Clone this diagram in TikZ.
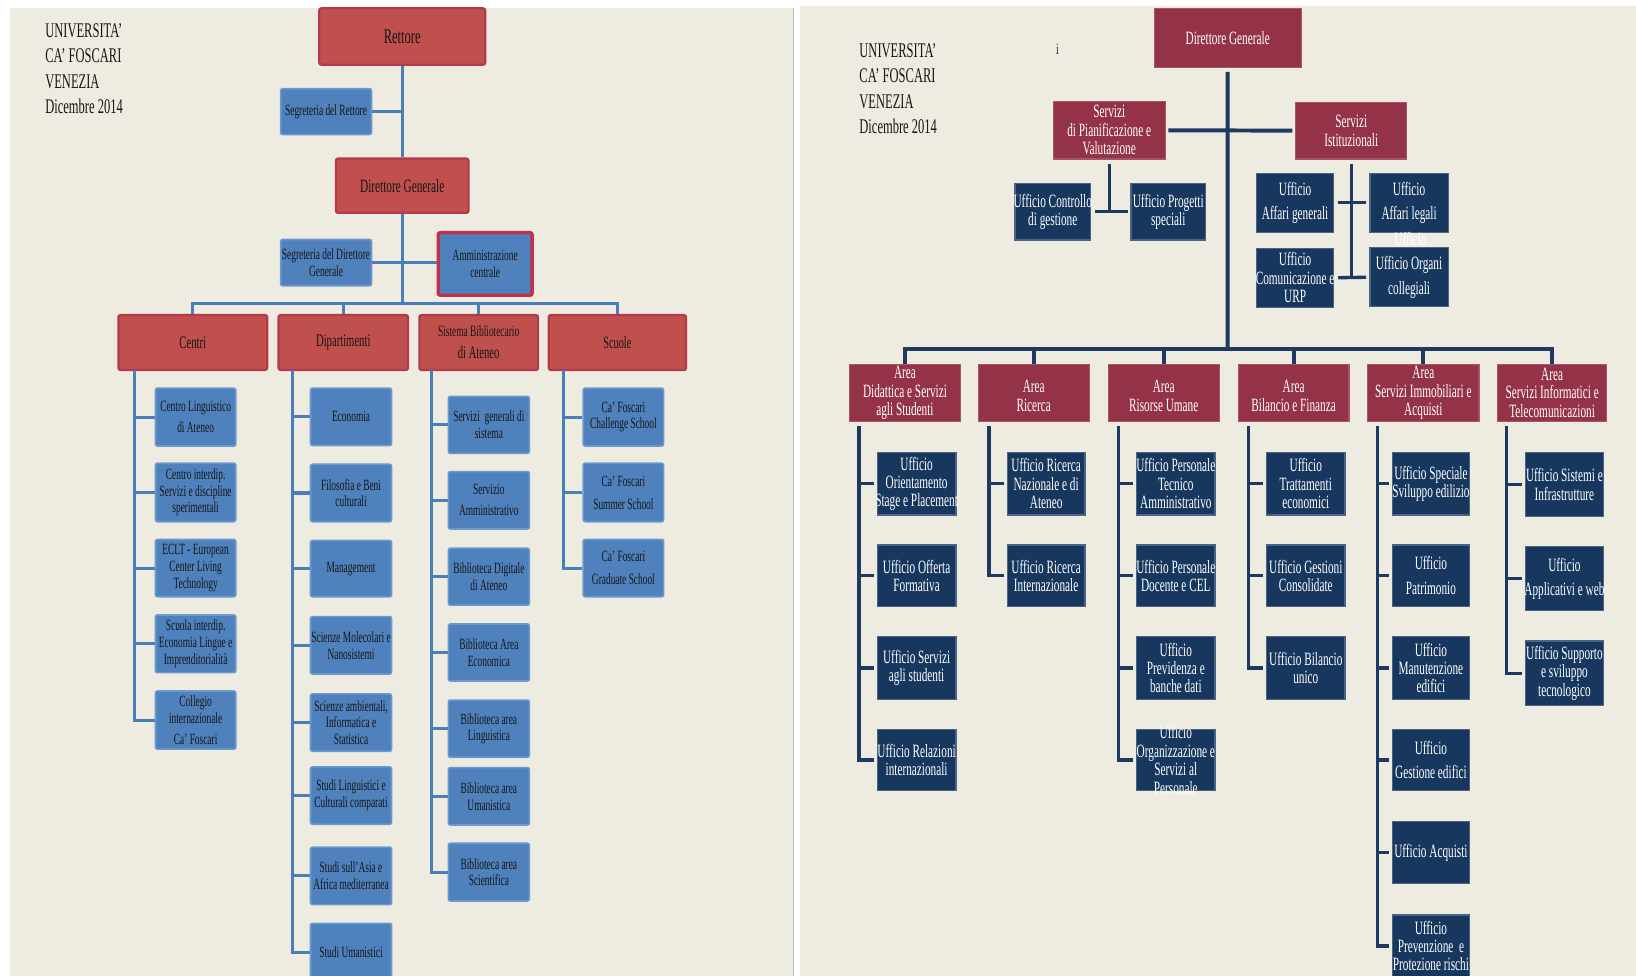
\documentclass[tikz,border=0pt]{standalone}
\usepackage{fontspec}
\setmainfont{Liberation Serif}[FakeStretch=0.6]
\usetikzlibrary{fit}
\definecolor{bg}{HTML}{EEECE1}
\definecolor{lred}{HTML}{C0504D}
\definecolor{lredb}{HTML}{B23A4C}
\definecolor{lblue}{HTML}{4F81BD}
\definecolor{lblueb}{HTML}{6C98CE}
\definecolor{ammb}{HTML}{C2304A}
\definecolor{llinec}{HTML}{4A7EBB}
\definecolor{rred}{HTML}{943348}
\definecolor{rredb}{HTML}{A95568}
\definecolor{rnavy}{HTML}{17375E}
\definecolor{rnavyb}{HTML}{4B6384}
\definecolor{rlinec}{HTML}{1F3A60}
\definecolor{ink}{HTML}{161616}
\newcommand\obox[4]{\node[#1, fit={#3}, inner sep=0pt] (#2) {};
  \node[#1txt] (#2-t) at (#2.center) {#4};}
\begin{document}
\begin{tikzpicture}[x=0.5pt,y=-0.5pt,
  lhead/.style={draw=lredb, fill=lred, line width=1.1pt, rounded corners=1pt},
  lheadtxt/.style={text=ink, align=center, inner sep=0pt, font=\fontsize{8.5}{10.5}\selectfont},
  lbox/.style={draw=lblueb, fill=lblue, line width=0.8pt, rounded corners=1pt},
  lboxtxt/.style={text=ink, align=center, inner sep=0pt, font=\fontsize{7.5}{8}\selectfont},
  ammbox/.style={draw=ammb, fill=lblue, line width=1.6pt, rounded corners=1pt},
  ammboxtxt/.style={text=ink, align=center, inner sep=0pt, font=\fontsize{7.5}{8}\selectfont},
  rhead/.style={draw=rredb, fill=rred, line width=0.5pt},
  rheadtxt/.style={text=white, align=center, inner sep=0pt, font=\fontsize{9}{8.9}\selectfont},
  rbox/.style={draw=rnavyb, fill=rnavy, line width=0.6pt},
  rboxtxt/.style={text=white, align=center, inner sep=0pt, font=\fontsize{9}{8.8}\selectfont},
  title/.style={text=ink, align=left, inner sep=0pt, anchor=north west, font=\fontsize{10}{12.2}\selectfont},
  lline/.style={draw=llinec, line width=1.45pt},
  rline/.style={draw=rlinec, line width=1.9pt},
  aline/.style={draw=rlinec, line width=1.6pt}]
\useasboundingbox (0,0) rectangle (1568,935);
\clip (0,0) rectangle (1568,935);
\fill[white] (0,0) rectangle (1568,935);
\fill[bg] (9.6,8) rectangle (760.3,935);
\fill[bg] (766.4,5.75) rectangle (1568,935);
\draw[black!25, line width=0.5pt] (760.3,8) -- (760.3,935);

% ---------------- LEFT PANEL ----------------
\node[title] (ttl) at (43,22) {UNIVERSITA’\\CA’ FOSCARI\\VENEZIA\\Dicembre 2014};

\obox{lhead}{rett}{(306,8) (465,62)}{\fontsize{10}{12}\selectfont Rettore}
\obox{lbox}{sr}{(269,85) (356,129)}{Segreteria del Rettore}
\obox{lhead}{dgl}{(322,152) (449,204)}{\fontsize{9}{11}\selectfont Direttore Generale}
\obox{lbox}{sdg}{(269,229.5) (356,274)}{Segreteria del Direttore\\Generale}
\obox{ammbox}{amm}{(420,223) (510,283)}{Amministrazione\\centrale}
\obox{lhead}{cen}{(113.5,302) (256,354.6)}{Centri}
\obox{lhead}{dip}{(267,302) (391,354.6)}{Dipartimenti}
\obox{lhead}{sba}{(402,302) (515.6,354.6)}{\fontsize{7.5}{10.5}\selectfont Sistema Bibliotecario\\di Ateneo}
\obox{lhead}{scu}{(526,302) (657.5,354.6)}{\fontsize{8.2}{10}\selectfont Scuole}

% Centri
\obox{lbox}{c1}{(149,372) (226,427.5)}{Centro Linguistico\\[2pt]di Ateneo}
\obox{lbox}{c2}{(149,444) (226,500)}{Centro interdip.\\Servizi e discipline\\sperimentali}
\obox{lbox}{c3}{(149,517) (226,572)}{ECLT - European\\Center Living\\Technology}
\obox{lbox}{c4}{(149,589.4) (226,644.7)}{Scuola interdip.\\Economia Lingue e\\Imprenditorialità}
\obox{lbox}{c5}{(149,662.3) (226,718)}{Collegio\\internazionale\\[2pt]Ca’ Foscari}
% Dipartimenti
\obox{lbox}{d1}{(297.6,372) (375.3,427)}{Economia}
\obox{lbox}{d2}{(297.6,445) (375.3,500)}{Filosofia e Beni\\culturali}
\obox{lbox}{d3}{(297.6,518) (375.3,572)}{Management}
\obox{lbox}{d4}{(297.6,591) (375.3,646)}{Scienze Molecolari e\\Nanosistemi}
\obox{lbox}{d5}{(297.6,665) (375.3,720)}{Scienze ambientali,\\Informatica e\\Statistica}
\obox{lbox}{d6}{(297.6,735) (375.3,790)}{Studi Linguistici e\\Culturali comparati}
\obox{lbox}{d7}{(297.6,812) (375.3,867)}{Studi sull’Asia e\\Africa mediterranea}
\obox{lbox}{d8}{(297.6,885) (375.3,940)}{Studi Umanistici}
% Sistema Bibliotecario
\obox{lbox}{s1}{(429.7,380) (507.4,434.5)}{Servizi\ \ generali di\\sistema}
\obox{lbox}{s2}{(429.7,452) (507.4,507)}{Servizio\\[2pt]Amministrativo}
\obox{lbox}{s3}{(429.7,525.5) (507.4,580)}{Biblioteca Digitale\\di Ateneo}
\obox{lbox}{s4}{(429.7,598) (507.4,652.7)}{Biblioteca Area\\Economica}
\obox{lbox}{s5}{(429.7,671) (507.4,725.8)}{Biblioteca area\\Linguistica}
\obox{lbox}{s6}{(429.7,735.7) (507.4,790.7)}{Biblioteca area\\Umanistica}
\obox{lbox}{s7}{(429.7,808.2) (507.4,863.5)}{Biblioteca area\\Scientifica}
% Scuole
\obox{lbox}{k1}{(559,372) (636,427.5)}{Ca’ Foscari\\Challenge School}
\obox{lbox}{k2}{(559,444) (636,500)}{Ca’ Foscari\\[3pt]Summer School}
\obox{lbox}{k3}{(559,517) (636,572)}{Ca’ Foscari\\[3pt]Graduate School}

% left connectors
\coordinate (lbus) at (385.5,291);
\draw[lline] (rett.south) -- (dgl.north);
\draw[lline] (sr.east) -- (sr.east -| rett.south);
\draw[lline] (dgl.south) -- (lbus);
\draw[lline] (sdg.east) -- (sdg.east -| amm.west);
\draw[lline] (cen.north) -- (cen.north |- lbus) -- (scu.north |- lbus) -- (scu.north);
\draw[lline] (dip.north) -- (dip.north |- lbus);
\draw[lline] (sba.north) -- (sba.north |- lbus);
\coordinate (cenv) at (128.8,354.6);
\coordinate (dipv) at (279.9,354.6);
\coordinate (sbav) at (413.8,354.6);
\coordinate (scuv) at (540.4,354.6);
\draw[lline] (cenv) |- (c5.west);
\foreach \n in {c1,c2,c3,c4} \draw[lline] (\n.west) -- (\n.west -| cenv);
\draw[lline] (dipv) |- (d8.west);
\foreach \n in {d1,d2,d3,d4,d5,d6,d7} \draw[lline] (\n.west) -- (\n.west -| dipv);
\draw[lline] (sbav) |- (s7.west);
\foreach \n in {s1,s2,s3,s4,s5,s6} \draw[lline] (\n.west) -- (\n.west -| sbav);
\draw[lline] (scuv) |- (k3.west);
\foreach \n in {k1,k2} \draw[lline] (\n.west) -- (\n.west -| scuv);

% ---------------- RIGHT PANEL ----------------
\node[title] (ttr) at (823.3,41.4) {UNIVERSITA’\\CA’ FOSCARI\\VENEZIA\\Dicembre 2014};
\node[text=ink, inner sep=0pt, anchor=base, font=\fontsize{7.5}{9}\selectfont] (ichar) at (1013.5,52.7) {i};

\obox{rhead}{dgr}{(1106.3,8) (1247,64.5)}{\fontsize{9}{11}\selectfont Direttore Generale}
\obox{rhead}{pian}{(1009.6,97.4) (1116.6,152.4)}{Servizi\\di Pianificazione e\\Valutazione}
\obox{rhead}{ist}{(1241.8,98) (1348.3,152.4)}{Servizi\\Istituzionali}
\obox{rbox}{ctrl}{(972.8,175.7) (1045.2,230)}{Ufficio Controllo\\di gestione}
\obox{rbox}{prog}{(1084,175.7) (1155.4,230)}{Ufficio Progetti\\speciali}
\obox{rbox}{ag}{(1204.5,166) (1278,222.7)}{Ufficio\\[3pt]Affari generali}
\obox{rbox}{al}{(1313,166) (1388,222.7)}{Ufficio\\[3pt]Affari legali}
\obox{rbox}{com}{(1204.5,238) (1278,294.5)}{Ufficio\\Comunicazione e\\URP}
\obox{rbox}{org}{(1313,237.4) (1388,294)}{Ufficio Organi\\[3pt]collegiali}
\node[rboxtxt, text=white] (stray) at (1352,229.4) {Ufficio};

\obox{rhead}{did}{(814,349) (920.7,404)}{Area\\Didattica e Servizi\\agli Studenti}
\obox{rhead}{ric}{(937.6,349) (1044,404)}{\mbox{}\\Area\\Ricerca}
\obox{rhead}{ris}{(1062.2,349) (1168.6,404)}{\mbox{}\\Area\\Risorse Umane}
\obox{rhead}{bil}{(1186.8,349) (1292.9,404)}{\mbox{}\\Area\\Bilancio e Finanza}
\obox{rhead}{imm}{(1310.8,349) (1417.5,404)}{Area\\Servizi Immobiliari e\\Acquisti}
\obox{rhead}{inf}{(1435.4,349) (1539.8,404)}{Area\\Servizi Informatici e\\Telecomunicazioni}

% Didattica
\obox{rbox}{dd1}{(840.8,433.8) (916.2,493.6)}{Ufficio\\Orientamento\\Stage e Placement}
\obox{rbox}{dd2}{(840.8,522.3) (916.2,581.4)}{Ufficio Offerta\\Formativa}
\obox{rbox}{dd3}{(840.8,610.2) (916.2,670.2)}{Ufficio Servizi\\agli studenti}
\obox{rbox}{dd4}{(840.8,699) (916.2,757.8)}{Ufficio Relazioni\\internazionali}
% Ricerca
\obox{rbox}{rc1}{(965.4,433.8) (1039.9,493.6)}{Ufficio Ricerca\\Nazionale e di\\Ateneo}
\obox{rbox}{rc2}{(965.4,522.3) (1039.9,581.4)}{Ufficio Ricerca\\Internazionale}
% Risorse Umane
\obox{rbox}{ru1}{(1089.4,433.8) (1164.5,493.6)}{Ufficio Personale\\Tecnico\\Amministrativo}
\obox{rbox}{ru2}{(1089.4,522.3) (1164.5,581.4)}{Ufficio Personale\\Docente e CEL}
\obox{rbox}{ru3}{(1089.4,610.2) (1164.5,670.2)}{Ufficio\\Previdenza e\\banche dati}
\obox{rbox}{ru4}{(1089.4,699) (1164.5,757.8)}{Ufficio\\Organizzazione e\\Servizi al\\Personale}
% Bilancio
\obox{rbox}{bf1}{(1214,433.8) (1289,493.6)}{Ufficio\\Trattamenti\\economici}
\obox{rbox}{bf2}{(1214,522.3) (1289,581.4)}{Ufficio Gestioni\\Consolidate}
\obox{rbox}{bf3}{(1214,610.2) (1289,670.2)}{Ufficio Bilancio\\unico}
% Immobiliari
\obox{rbox}{im1}{(1334.4,433.8) (1408.5,493.6)}{Ufficio Speciale\\Sviluppo edilizio}
\obox{rbox}{im2}{(1334.4,522.3) (1408.5,581.4)}{Ufficio\\[3pt]Patrimonio}
\obox{rbox}{im3}{(1334.4,610.2) (1408.5,670.2)}{Ufficio\\Manutenzione\\edifici}
\obox{rbox}{im4}{(1334.4,699) (1408.5,757.8)}{Ufficio\\[3pt]Gestione edifici}
\obox{rbox}{im5}{(1334.4,787.5) (1408.5,846.6)}{Ufficio Acquisti}
\obox{rbox}{im6}{(1334.4,877) (1408.5,936.5)}{Ufficio\\Prevenzione\ \ e\\Protezione rischi}
% Informatici
\obox{rbox}{it1}{(1462.2,433.8) (1536.6,495.2)}{Ufficio Sistemi e\\Infrastrutture}
\obox{rbox}{it2}{(1462.2,524) (1536.6,585.3)}{Ufficio\\[3pt]Applicativi e web}
\obox{rbox}{it3}{(1462.2,614.3) (1536.6,676.3)}{Ufficio Supporto\\e sviluppo\\tecnologico}

% right connectors
\coordinate (rbus) at (1176.6,334.8);
\draw[rline] ([yshift=-2pt]dgr.south) -- (rbus);
\draw[rline, shorten <=1.3pt, shorten >=1.3pt] (pian.east) -- (ist.west);
\draw[aline] ([yshift=-2pt]pian.south) -- (pian.south |- ctrl.east);
\draw[aline, shorten <=2pt, shorten >=1pt] (ctrl.east) -- (prog.west);
\draw[aline] ([yshift=-2pt]ist.south) -- (ist.south |- com.east);
\draw[aline, shorten <=2pt, shorten >=1.5pt] (ag.east) -- (al.west);
\draw[aline, shorten <=2pt, shorten >=1.5pt] (com.east) -- (org.west);
\draw[rline] (did.north) -- (did.north |- rbus) -- (inf.north |- rbus) -- (inf.north);
\foreach \n in {ric,ris,bil,imm} \draw[rline] (\n.north) -- (\n.north |- rbus);

\coordinate (didv) at (823.3,408.3);
\coordinate (ricv) at (947.9,408.3);
\coordinate (risv) at (1071.8,408.3);
\coordinate (bilv) at (1196.4,408.3);
\coordinate (immv) at (1320.4,408.3);
\coordinate (infv) at (1444,408.3);
\draw[aline] (didv) |- ([xshift=-1.4pt]dd4.west);
\foreach \n in {dd1,dd2,dd3} \draw[aline] ([xshift=-1.4pt]\n.west) -- (\n.west -| didv);
\draw[aline] (ricv) |- ([xshift=-1.4pt]rc2.west);
\draw[aline] ([xshift=-1.4pt]rc1.west) -- (rc1.west -| ricv);
\draw[aline] (risv) |- ([xshift=-1.4pt]ru4.west);
\foreach \n in {ru1,ru2,ru3} \draw[aline] ([xshift=-1.4pt]\n.west) -- (\n.west -| risv);
\draw[aline] (bilv) |- ([xshift=-1.4pt]bf3.west);
\foreach \n in {bf1,bf2} \draw[aline] ([xshift=-1.4pt]\n.west) -- (\n.west -| bilv);
\draw[aline] (immv) |- ([xshift=-1.4pt]im6.west);
\foreach \n in {im1,im2,im3,im4,im5} \draw[aline] ([xshift=-1.4pt]\n.west) -- (\n.west -| immv);
\draw[aline] (infv) |- ([xshift=-1.4pt]it3.west);
\foreach \n in {it1,it2} \draw[aline] ([xshift=-1.4pt]\n.west) -- (\n.west -| infv);
\end{tikzpicture}
\end{document}
